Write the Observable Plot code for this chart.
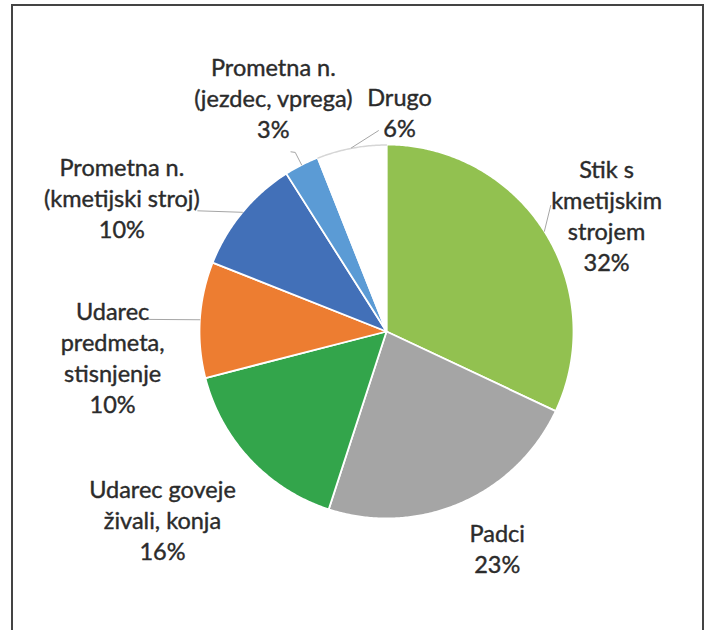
<!DOCTYPE html>
<html>
<head>
<meta charset="utf-8">
<script src="https://cdn.jsdelivr.net/npm/d3@7"></script>
<script src="https://cdn.jsdelivr.net/npm/@observablehq/plot@0.6"></script>
<style>
  html, body { margin: 0; padding: 0; background: #fff; }
  #wrap { position: relative; width: 710px; height: 630px; overflow: hidden; }
  #frame { position: absolute; left: 11px; top: 4px; width: 693px; height: 660px;
           border: 2px solid #444; box-sizing: border-box; }
  #chart { position: absolute; left: 0; top: 0; }
</style>
</head>
<body>
<div id="wrap"><div id="chart"></div><div id="frame"></div></div>
<script>
// ---- data ----
const categories = [
  "Stik s\nkmetijskim\nstrojem",
  "Padci",
  "Udarec goveje\nživali, konja",
  "Udarec\npredmeta,\nstisnjenje",
  "Prometna n.\n(kmetijski stroj)",
  "Prometna n.\n(jezdec, vprega)",
  "Drugo"
];
const values = [32, 23, 16, 10, 10, 3, 6];
const colors = ["#92C150", "#A5A5A5", "#33A54B", "#ED7D31", "#4270B8", "#5B9BD5", "#FFFFFF"];

// ---- layout (polar positions, degrees clockwise from top; radius in px) ----
const R = 187;
const labelPolar = [[62.1, 249], [152.9, 243], [230.1, 292], [264.8, 275], [297.0, 297], [334.2, 260], [3.4, 220]];
// leader polylines after the slice edge point: list of [angle, radius]
const leaderPolar = [
  [[52.5, 207]],
  null,
  null,
  [[272.9, 239]],
  [[302.6, 224]],
  [[333.0, 201], [332.0, 203.5]],
  [[357.7, 201]]
];

// ---- geometry ----
const total = d3.sum(values);
const rad = d => d * Math.PI / 180;
const polar = (a, r) => ({x: r * Math.sin(a), y: r * Math.cos(a)});

let acc = 0;
const slices = values.map((v, i) => {
  const a0 = acc / total * 2 * Math.PI;
  acc += v;
  const a1 = acc / total * 2 * Math.PI;
  return {i, cat: categories[i], v, a0, a1, mid: (a0 + a1) / 2};
});

const slicePts = [];
for (const s of slices) {
  slicePts.push({cat: s.cat, x: 0, y: 0});
  const n = Math.max(4, Math.ceil((s.a1 - s.a0) / rad(0.5)));
  for (let k = 0; k <= n; k++) {
    const p = polar(s.a0 + (s.a1 - s.a0) * k / n, R);
    slicePts.push({cat: s.cat, x: p.x, y: p.y});
  }
}

// gray outline on the white slice arc
const white = slices[6];
const outlinePts = d3.range(0, 41).map(k => polar(white.a0 + (white.a1 - white.a0) * k / 40, R - 0.5));

const leaderPts = [];
slices.forEach((s, i) => {
  if (!leaderPolar[i]) return;
  const p0 = polar(s.mid, R);
  leaderPts.push({id: i, x: p0.x, y: p0.y});
  for (const [a, r] of leaderPolar[i]) {
    const p = polar(rad(a), r);
    leaderPts.push({id: i, x: p.x, y: p.y});
  }
});

const labels = slices.map((s, i) => {
  const p = polar(rad(labelPolar[i][0]), labelPolar[i][1]);
  return {x: p.x, y: p.y, text: s.cat + "\n" + s.v + "%"};
});

const W = 710, H = 630, CX = 386, CY = 331;
const FS = 23.5;
const chart = Plot.plot({
  width: W, height: H, margin: 0,
  x: {domain: [-CX, W - CX], axis: null},
  y: {domain: [CY - H, CY], axis: null},
  color: {domain: categories, range: colors},
  style: {background: "transparent"},
  marks: [
    Plot.line(slicePts, {x: "x", y: "y", z: "cat", fill: "cat", stroke: "#ffffff", strokeWidth: 1.8, strokeLinejoin: "round", curve: "linear-closed"}),
    Plot.line(outlinePts, {x: "x", y: "y", stroke: "#d6d6d6", strokeWidth: 1.5}),
    Plot.line(leaderPts, {x: "x", y: "y", z: "id", stroke: "#a6a6a6", strokeWidth: 1}),
    Plot.text(labels, {x: "x", y: "y", text: "text", fontSize: FS, lineHeight: 31 / FS, fill: "#2b2b2b", stroke: "#2b2b2b", strokeWidth: 0.4, fontFamily: "Lato", textAnchor: "middle"})
  ]
});
document.getElementById("chart").appendChild(chart);
</script>
</body>
</html>
